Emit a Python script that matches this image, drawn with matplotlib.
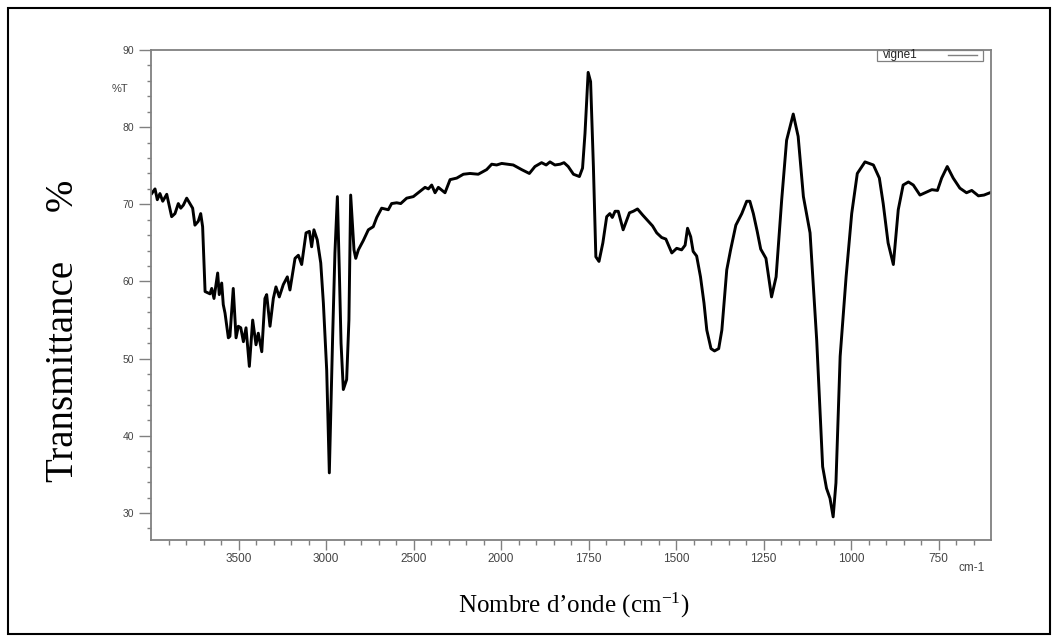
import numpy as np
import matplotlib
matplotlib.use('Agg')
import matplotlib.pyplot as plt
from matplotlib.patches import Rectangle

# Spectre IR (nombre d'onde en cm-1, transmittance en %)
nombre_onde = [
	3996, 3977, 3964, 3949, 3933, 3910, 3882, 3863, 3844, 3830, 3815, 3796, 3762, 3749, 3730,
	3716, 3705, 3691, 3663, 3653, 3640, 3619, 3610, 3596, 3587, 3577, 3558, 3549, 3530, 3514,
	3501, 3487, 3472, 3457, 3438, 3419, 3400, 3387, 3367, 3349, 3339, 3320, 3301, 3286, 3267,
	3244, 3221, 3206, 3177, 3158, 3139, 3114, 3095, 3082, 3069, 3050, 3030, 3015, 2996, 2981,
	2962, 2949, 2935, 2924, 2914, 2901, 2882, 2869, 2859, 2840, 2830, 2815, 2787, 2758, 2730,
	2710, 2682, 2644, 2625, 2596, 2573, 2539, 2501, 2473, 2434, 2415, 2396, 2377, 2358, 2320,
	2291, 2253, 2215, 2177, 2130, 2082, 2053, 2025, 1998, 1965, 1941, 1919, 1903, 1884, 1871,
	1860, 1846, 1831, 1820, 1808, 1793, 1776, 1767, 1760, 1751, 1744, 1736, 1729, 1720, 1709,
	1698, 1689, 1682, 1674, 1665, 1651, 1633, 1622, 1610, 1595, 1579, 1567, 1555, 1541, 1529,
	1512, 1498, 1484, 1474, 1467, 1458, 1451, 1441, 1430, 1420, 1412, 1400, 1390, 1378, 1369,
	1355, 1344, 1329, 1312, 1298, 1289, 1279, 1268, 1258, 1243, 1227, 1214, 1198, 1184, 1165,
	1151, 1136, 1117, 1098, 1081, 1070, 1060, 1051, 1043, 1031, 1014, 998, 982, 960, 936,
	919, 908, 894, 879, 865, 851, 836, 822, 803, 784, 769, 753, 741, 725, 708,
	689, 670, 655, 636, 620, 603,
]
transmittance = [
	71.4, 72.0, 70.6, 71.4, 70.4, 71.3, 68.4, 68.8, 70.1, 69.5, 69.9, 70.8, 69.5, 67.3, 67.8,
	68.8, 67.1, 58.7, 58.4, 59.1, 57.8, 61.1, 58.3, 59.8, 57.0, 55.9, 52.7, 52.9, 59.1, 52.7,
	54.2, 54.0, 52.2, 54.0, 49.0, 55.0, 51.8, 53.3, 50.9, 57.8, 58.3, 54.2, 57.8, 59.3, 58.0,
	59.6, 60.6, 58.9, 63.0, 63.4, 62.2, 66.3, 66.5, 64.5, 66.7, 65.4, 62.4, 57.2, 48.5, 35.2,
	52.9, 63.7, 71.0, 61.5, 52.0, 46.0, 47.3, 55.0, 71.2, 64.1, 63.0, 64.1, 65.3, 66.7, 67.1,
	68.3, 69.5, 69.3, 70.1, 70.2, 70.1, 70.8, 71.0, 71.5, 72.2, 72.0, 72.5, 71.5, 72.2, 71.5,
	73.2, 73.4, 73.9, 74.0, 73.9, 74.5, 75.2, 75.1, 75.3, 75.1, 74.5, 74.0, 74.9, 75.4, 75.1,
	75.5, 75.1, 75.2, 75.4, 74.9, 73.9, 73.6, 74.7, 79.2, 87.1, 85.9, 74.9, 63.2, 62.6, 65.0,
	68.4, 68.8, 68.3, 69.1, 69.1, 66.7, 68.9, 69.1, 69.4, 68.6, 67.8, 67.2, 66.3, 65.7, 65.5,
	63.7, 64.3, 64.1, 64.7, 66.9, 65.8, 63.9, 63.3, 60.6, 57.2, 53.7, 51.3, 51.0, 51.3, 53.7,
	61.5, 64.1, 67.3, 68.8, 70.4, 70.4, 68.8, 66.5, 64.2, 63.0, 58.0, 60.6, 70.6, 78.3, 81.7,
	78.8, 71.0, 66.3, 52.4, 36.0, 33.2, 31.9, 29.5, 33.9, 50.3, 60.6, 68.8, 74.0, 75.5, 75.1,
	73.4, 70.1, 65.0, 62.2, 69.3, 72.5, 72.9, 72.5, 71.2, 71.6, 71.9, 71.8, 73.4, 74.9, 73.4,
	72.1, 71.5, 71.8, 71.1, 71.2, 71.5,
]

ticks_x = [3500, 3000, 2500, 2000, 1750, 1500, 1250, 1000, 750]
ticks_y = [30, 40, 50, 60, 70, 80, 90]
nom_serie = 'vigne1'

GRIS = '#808080'
TEXTE = '#444444'


def echelle_ir():
	# L'echelle change a 2000 cm-1 : 500 cm-1 par pas au-dessus, 250 cm-1 par pas en dessous
	xp = [600, 2000, 4000]
	up = [0, 5.6, 9.6]

	def aller(x):
		return np.interp(x, xp, up)

	def retour(u):
		return np.interp(u, up, xp)

	return aller, retour


def legende(ax):
	# Petite boite collee au bord haut, texte a gauche et trait gris a droite
	boite = Rectangle((0.864, 0.977), 0.126, 0.023, transform=ax.transAxes, fill=False,
					  edgecolor=GRIS, lw=0.9, clip_on=False)
	ax.add_patch(boite)
	ax.text(0.871, 0.989, nom_serie, transform=ax.transAxes, fontsize=8.5, color='#222222',
			ha='left', va='center')
	ax.plot([0.949, 0.983], [0.989, 0.989], transform=ax.transAxes, color=GRIS, lw=1, clip_on=False)


def graficar():
	plt.rcParams['font.family'] = ['Liberation Sans', 'DejaVu Sans']
	plt.rcParams['mathtext.fontset'] = 'stix'
	plt.rcParams['axes.unicode_minus'] = False

	fig = plt.figure(figsize=(10.58, 6.40), dpi=100)
	ax = fig.add_axes([151 / 1058, 1 - 540 / 640, 840 / 1058, 490 / 640])

	ax.set_xscale('function', functions=echelle_ir())
	ax.plot(nombre_onde, transmittance, color='black', lw=2.1, solid_joinstyle='round')
	ax.set_xlim(4000, 600)
	ax.set_ylim(26.5, 90)

	ax.set_xticks(ticks_x)
	ax.set_xticklabels([str(t) for t in ticks_x])
	minor_x = list(range(3900, 2000, -100)) + list(range(1950, 600, -50))
	ax.set_xticks([m for m in minor_x if m not in ticks_x], minor=True)
	ax.set_yticks(ticks_y)
	ax.set_yticks(list(range(28, 90, 2)), minor=True)

	for spine in ax.spines.values():
		spine.set_color(GRIS)
		spine.set_linewidth(1.3)

	ax.tick_params(axis='x', which='major', length=7, width=1, color=GRIS, labelsize=8.5, labelcolor=TEXTE, pad=2)
	ax.tick_params(axis='x', which='minor', length=3.6, width=1, color=GRIS)
	ax.tick_params(axis='y', which='major', length=9, width=1, color=GRIS, labelsize=7.5, labelcolor=TEXTE, pad=3)
	ax.tick_params(axis='y', which='minor', length=3, width=1, color=GRIS)

	ax.text(-0.037, 0.92, '%T', transform=ax.transAxes, fontsize=8, color=TEXTE, ha='center', va='center')
	ax.text(0.977, -0.058, 'cm-1', transform=ax.transAxes, fontsize=8.5, color=TEXTE, ha='center', va='center')

	legende(ax)

	fig.text(64 / 1058, 1 - 331 / 640, 'Transmittance     %', rotation=90, fontsize=28,
			 family='Liberation Serif', ha='center', va='center')
	fig.text(574 / 1058, 1 - 605 / 640, 'Nombre d’onde (cm$^{\\mathregular{-1}}$)', fontsize=18,
			 family='Liberation Serif', ha='center', va='center')

	# Cadre noir autour de toute la figure
	cadre = Rectangle((8 / 1058, 6 / 640), 1042 / 1058, 626 / 640, transform=fig.transFigure,
					  fill=False, edgecolor='black', lw=1.5)
	fig.patches.append(cadre)

	fig.savefig('out.png', dpi=100)


if __name__ == '__main__':
	graficar()
